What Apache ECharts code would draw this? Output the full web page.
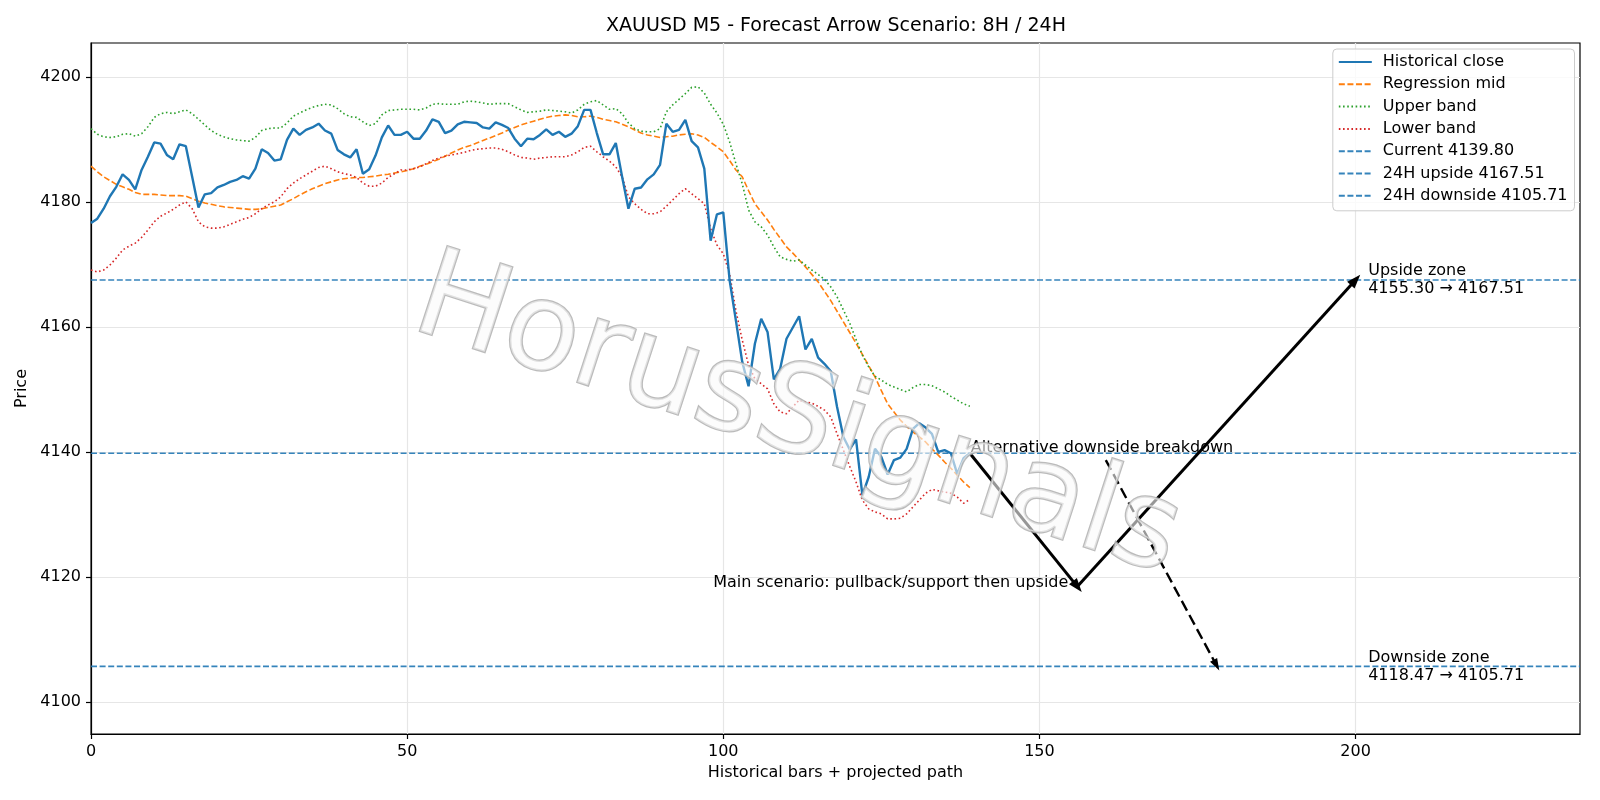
<!DOCTYPE html>
<html>
<head>
<meta charset="utf-8">
<script src="https://cdn.jsdelivr.net/npm/echarts@6/dist/echarts.min.js"></script>
<style>
html, body { margin: 0; padding: 0; background: #fff; }
#draw { width: 1600px; height: 800px; }
</style>
</head>
<body>
<div id="draw"></div>
<script>
// values, bar index 0..139
var closeVals = [4176.6, 4177.3, 4178.9, 4180.9, 4182.4, 4184.4, 4183.5, 4182.0, 4185.1, 4187.2,
	4189.5, 4189.3, 4187.5, 4186.8, 4189.2, 4188.9, 4184.0, 4179.1, 4181.2, 4181.4,
	4182.3, 4182.7, 4183.2, 4183.5, 4184.1, 4183.7, 4185.3, 4188.4, 4187.8, 4186.6,
	4186.8, 4189.9, 4191.7, 4190.7, 4191.5, 4191.9, 4192.5, 4191.4, 4190.9, 4188.3,
	4187.6, 4187.1, 4188.4, 4184.5, 4185.2, 4187.4, 4190.3, 4192.2, 4190.7, 4190.7,
	4191.2, 4190.1, 4190.1, 4191.4, 4193.2, 4192.8, 4191.0, 4191.4, 4192.4, 4192.8,
	4192.7, 4192.6, 4191.9, 4191.7, 4192.7, 4192.3, 4191.8, 4190.1, 4188.9, 4190.1,
	4190.0, 4190.7, 4191.6, 4190.7, 4191.2, 4190.4, 4190.9, 4192.1, 4194.7, 4194.7,
	4191.0, 4187.6, 4187.6, 4189.4, 4184.0, 4178.9, 4182.1, 4182.3, 4183.6, 4184.4,
	4185.9, 4192.5, 4191.2, 4191.5, 4193.1, 4189.7, 4188.7, 4185.3, 4173.8, 4178.0,
	4178.3, 4167.5, 4161.0, 4154.4, 4150.5, 4157.3, 4161.3, 4159.2, 4151.6, 4153.3,
	4158.1, 4159.9, 4161.7, 4156.4, 4158.1, 4155.1, 4154.1, 4152.9, 4147.2, 4142.4,
	4140.4, 4142.0, 4133.1, 4136.0, 4140.5, 4139.2, 4136.4, 4138.7, 4139.1, 4140.5,
	4143.7, 4144.6, 4143.9, 4142.9, 4140.0, 4140.3, 4139.8, 4136.5, 4139.0, 4139.8];

var midVals = [4185.7, 4184.8, 4184.0, 4183.4, 4182.8, 4182.4, 4182.0, 4181.5, 4181.2, 4181.2,
	4181.2, 4181.1, 4181.0, 4181.0, 4181.0, 4180.9, 4180.5, 4180.1, 4179.8, 4179.6,
	4179.4, 4179.2, 4179.1, 4179.0, 4178.9, 4178.8, 4178.8, 4178.9, 4179.1, 4179.3,
	4179.5, 4180.0, 4180.5, 4181.1, 4181.6, 4182.1, 4182.5, 4182.9, 4183.2, 4183.5,
	4183.7, 4183.8, 4183.9, 4183.9, 4184.0, 4184.1, 4184.3, 4184.4, 4184.6, 4184.8,
	4185.0, 4185.3, 4185.7, 4186.0, 4186.4, 4186.8, 4187.3, 4187.8, 4188.3, 4188.7,
	4189.0, 4189.4, 4189.8, 4190.2, 4190.6, 4191.0, 4191.5, 4191.9, 4192.3, 4192.6,
	4192.9, 4193.2, 4193.5, 4193.7, 4193.8, 4193.9, 4193.8, 4193.6, 4193.6, 4193.7,
	4193.5, 4193.2, 4193.0, 4192.8, 4192.4, 4192.0, 4191.5, 4191.0, 4190.7, 4190.5,
	4190.3, 4190.4, 4190.5, 4190.7, 4190.8, 4190.9, 4190.7, 4190.3, 4189.5, 4188.8,
	4188.0, 4186.6, 4185.1, 4184.0, 4181.8, 4179.7, 4178.4, 4177.1, 4175.6, 4174.2,
	4172.8, 4171.8, 4170.7, 4169.6, 4168.4, 4167.2, 4165.7, 4164.2, 4162.5, 4160.8,
	4159.1, 4157.4, 4155.6, 4153.8, 4152.0, 4149.8, 4147.7, 4146.4, 4145.1, 4144.1,
	4143.2, 4142.4, 4141.6, 4140.5, 4139.5, 4138.4, 4137.4, 4136.3, 4135.2, 4134.3];

var upperVals = [4191.7, 4190.8, 4190.4, 4190.3, 4190.4, 4190.8, 4190.9, 4190.5, 4190.9, 4192.0,
	4193.5, 4194.1, 4194.3, 4194.1, 4194.4, 4194.7, 4194.1, 4193.2, 4192.3, 4191.4,
	4190.8, 4190.4, 4190.1, 4189.9, 4189.8, 4189.7, 4190.3, 4191.4, 4191.7, 4191.8,
	4191.8, 4192.6, 4193.7, 4194.2, 4194.7, 4195.1, 4195.4, 4195.6, 4195.5, 4194.9,
	4194.1, 4193.6, 4193.5, 4192.8, 4192.2, 4192.5, 4193.9, 4194.6, 4194.7, 4194.8,
	4194.8, 4194.8, 4194.7, 4195.0, 4195.6, 4195.7, 4195.6, 4195.6, 4195.6, 4196.0,
	4196.1, 4196.0, 4195.8, 4195.6, 4195.7, 4195.7, 4195.7, 4195.2, 4194.7, 4194.3,
	4194.4, 4194.5, 4194.7, 4194.6, 4194.5, 4194.4, 4194.2, 4194.7, 4195.6, 4196.0,
	4196.2, 4195.5, 4194.8, 4194.9, 4194.1, 4192.6, 4191.7, 4191.3, 4191.2, 4191.2,
	4191.7, 4194.4, 4195.5, 4196.4, 4197.3, 4198.3, 4198.4, 4197.4, 4195.6, 4194.2,
	4192.4, 4189.6, 4186.1, 4182.9, 4178.7, 4176.8, 4176.0, 4174.7, 4172.8, 4171.2,
	4170.8, 4170.5, 4170.7, 4169.9, 4169.1, 4168.4, 4167.6, 4166.4, 4164.8, 4162.7,
	4160.6, 4158.0, 4155.5, 4153.6, 4152.1, 4151.5, 4150.8, 4150.4, 4150.0, 4149.6,
	4150.3, 4150.8, 4150.8, 4150.6, 4150.1, 4149.6, 4148.9, 4148.3, 4147.7, 4147.3];

var lowerVals = [4169.1, 4168.8, 4169.1, 4169.9, 4171.0, 4172.3, 4172.9, 4173.4, 4174.3, 4175.5,
	4176.8, 4177.7, 4178.2, 4178.8, 4179.5, 4180.0, 4178.9, 4176.8, 4176.0, 4175.8,
	4175.8, 4176.0, 4176.4, 4176.8, 4177.2, 4177.5, 4178.1, 4178.9, 4179.5, 4180.0,
	4180.8, 4182.1, 4183.0, 4183.7, 4184.3, 4184.9, 4185.5, 4185.7, 4185.3, 4184.8,
	4184.5, 4184.3, 4183.9, 4183.0, 4182.5, 4182.5, 4183.0, 4183.9, 4184.5, 4185.1,
	4185.1, 4185.3, 4185.6, 4186.1, 4186.6, 4187.0, 4187.3, 4187.5, 4187.7, 4187.9,
	4188.2, 4188.4, 4188.5, 4188.6, 4188.6, 4188.4, 4188.0, 4187.5, 4187.1, 4187.0,
	4186.8, 4187.0, 4187.1, 4187.2, 4187.2, 4187.2, 4187.5, 4188.0, 4188.7, 4188.9,
	4188.0, 4187.2, 4186.5, 4185.6, 4184.0, 4180.8, 4179.7, 4178.8, 4178.1, 4178.1,
	4178.4, 4179.3, 4180.3, 4181.3, 4182.1, 4181.3, 4180.5, 4179.7, 4175.7, 4173.1,
	4171.7, 4168.5, 4162.6, 4157.9, 4153.9, 4151.7, 4150.9, 4150.1, 4147.7, 4146.4,
	4146.1, 4147.2, 4148.3, 4148.0, 4147.8, 4147.3, 4146.7, 4145.6, 4142.9, 4140.3,
	4137.7, 4135.2, 4132.3, 4130.9, 4130.4, 4130.1, 4129.3, 4129.3, 4129.4, 4130.1,
	4131.2, 4132.3, 4133.4, 4134.0, 4133.8, 4133.6, 4133.4, 4132.8, 4131.8, 4132.4];

var levelNames = ['Current 4139.80', '24H upside 4167.51', '24H downside 4105.71'];
var levelVals = [4139.80, 4167.51, 4105.71];

// projected path: now -> pullback -> upside target, and the alternative breakdown
var mainPath = [[139, 4139.80], [156, 4118.47], [200, 4167.51]];
var altPath = [[160.5, 4138.7], [178, 4105.9]];

var noteTexts = ['Alternative downside breakdown', 'Main scenario: pullback/support then upside',
	'Upside zone\n4155.30 \u2192 4167.51', 'Downside zone\n4118.47 \u2192 4105.71'];
var notePoints = [[139, 4139.80], [156, 4118.47], [202, 4167.51], [202, 4105.71]];

var xTicks = [0, 50, 100, 150, 200];
var yTicks = [4100, 4120, 4140, 4160, 4180, 4200];
var xRange = [0, 235.5];
var yRange = [4094.9, 4205.4];

var FONT = 'DejaVu Sans';

var toPairs = function(vals) {
	return vals.map(function(v, i) {
		return [i, v];
	});
};

var myChart = echarts.init(document.getElementById('draw'), null, { renderer: 'canvas' });

var seriesList = [ {
	name : 'Historical close',
	type : 'line',
	data : toPairs(closeVals),
	symbol : 'none',
	lineStyle : { color : '#1f77b4', width : 2.4 },
	itemStyle : { color : '#1f77b4' },
	z : 5
}, {
	name : 'Regression mid',
	type : 'line',
	data : toPairs(midVals),
	symbol : 'none',
	lineStyle : { color : '#ff7f0e', width : 1.6, type : [6, 2.6] },
	itemStyle : { color : '#ff7f0e' },
	z : 4
}, {
	name : 'Upper band',
	type : 'line',
	data : toPairs(upperVals),
	symbol : 'none',
	lineStyle : { color : '#2ca02c', width : 1.6, type : [1.6, 2.6] },
	itemStyle : { color : '#2ca02c' },
	z : 4
}, {
	name : 'Lower band',
	type : 'line',
	data : toPairs(lowerVals),
	symbol : 'none',
	lineStyle : { color : '#d62728', width : 1.6, type : [1.6, 2.6] },
	itemStyle : { color : '#d62728' },
	z : 4
} ];

levelNames.forEach(function(nm, k) {
	seriesList.push({
		name : nm,
		type : 'line',
		data : [ [ xRange[0], levelVals[k] ], [ xRange[1], levelVals[k] ] ],
		symbol : 'none',
		lineStyle : { color : '#1f77b4', width : 1.6, type : [6, 2.6], opacity : 0.9 },
		itemStyle : { color : '#1f77b4' },
		z : 3
	});
});

// arrows
var arrowPairs = [];
for (var i = 0; i < mainPath.length - 1; i++) {
	arrowPairs.push([ { coord : mainPath[i] }, { coord : mainPath[i + 1] } ]);
}
seriesList.push({
	name : 'mainArrows',
	type : 'line',
	data : [],
	markLine : {
		silent : true,
		animation : false,
		symbol : [ 'none', 'triangle' ],
		symbolSize : [ 10, 14 ],
		label : { show : false },
		lineStyle : { color : '#000', width : 3, type : 'solid' },
		emphasis : { disabled : true },
		data : arrowPairs
	},
	z : 6
});
seriesList.push({
	name : 'altArrow',
	type : 'line',
	data : [],
	markLine : {
		silent : true,
		animation : false,
		symbol : [ 'none', 'triangle' ],
		symbolSize : [ 8, 12 ],
		label : { show : false },
		lineStyle : { color : '#000', width : 2.4, type : [11, 5] },
		emphasis : { disabled : true },
		data : [ [ { coord : altPath[0] }, { coord : altPath[1] } ] ]
	},
	z : 6
});

// text notes
var noteLabel = [
	{ align : 'left', offset : [ 1, -5 ] },
	{ align : 'right', offset : [ -9, -4 ] },
	{ align : 'left', offset : [ 0, 0 ] },
	{ align : 'left', offset : [ 0, 0 ] }
];
seriesList.push({
	name : 'notes',
	type : 'scatter',
	symbolSize : 0,
	silent : true,
	z : 7,
	itemStyle : { color : '#000', opacity : 1 },
	data : notePoints.map(function(p, k) {
		var lb = noteLabel[k];
		return {
			value : p,
			name : noteTexts[k],
			label : {
				show : true,
				position : [ 0, 0 ],
				formatter : noteTexts[k],
				align : lb.align,
				verticalAlign : 'middle',
				offset : lb.offset,
				lineHeight : 18,
				color : '#000',
				opacity : 1,
				textBorderWidth : 0,
				fontSize : 16,
				fontFamily : FONT
			}
		};
	})
});

var option = {
	animation : false,
	backgroundColor : '#fff',
	textStyle : { fontFamily : FONT },
	grid : {
		left : 91,
		right : 20,
		top : 43,
		bottom : 66,
		show : true,
		borderColor : '#000',
		borderWidth : 1.2,
		backgroundColor : 'rgba(0,0,0,0)'
	},
	legend : {
		orient : 'vertical',
		right : 25.5,
		top : 49,
		padding : [ 5, 7, 7, 5 ],
		itemWidth : 33,
		itemHeight : 14,
		itemGap : 6.3,
		backgroundColor : 'rgba(255,255,255,0.8)',
		borderColor : '#cccccc',
		borderWidth : 1,
		borderRadius : 4,
		itemStyle : { opacity : 0, borderWidth : 0 },
		textStyle : { fontSize : 16, fontFamily : FONT, color : '#000', padding : [ 0, 0, 0, 6 ] },
		data : [ 'Historical close', 'Regression mid', 'Upper band', 'Lower band' ].concat(levelNames)
	},
	xAxis : {
		type : 'value',
		min : xRange[0],
		max : xRange[1],
		name : 'Historical bars + projected path',
		nameLocation : 'middle',
		nameGap : 29,
		nameTextStyle : { fontSize : 16, color : '#000', fontFamily : FONT },
		axisLine : { show : true, lineStyle : { color : '#000', width : 1.2 } },
		axisTick : { show : true, length : 5, lineStyle : { color : '#000', width : 1.2 }, customValues : xTicks },
		axisLabel : {
			fontSize : 16, color : '#000', margin : 10, customValues : xTicks,
			formatter : function(v) {
				return xTicks.indexOf(v) >= 0 ? String(v) : '';
			}
		},
		splitLine : { show : true, lineStyle : { color : '#e6e6e6', width : 1.2 } }
	},
	yAxis : {
		type : 'value',
		min : yRange[0],
		max : yRange[1],
		name : 'Price',
		nameLocation : 'middle',
		nameGap : 53,
		nameTextStyle : { fontSize : 16, color : '#000', fontFamily : FONT },
		axisLine : { show : true, lineStyle : { color : '#000', width : 1.2 } },
		axisTick : { show : true, length : 5, lineStyle : { color : '#000', width : 1.2 }, customValues : yTicks },
		axisLabel : {
			fontSize : 16, color : '#000', margin : 10, customValues : yTicks,
			formatter : function(v) {
				return yTicks.indexOf(v) >= 0 ? String(v) : '';
			}
		},
		splitLine : { show : true, lineStyle : { color : '#e6e6e6', width : 1.2 } }
	},
	graphic : [ {
		type : 'text',
		x : 836,
		y : 26,
		style : {
			text : 'XAUUSD M5 - Forecast Arrow Scenario: 8H / 24H',
			align : 'center',
			verticalAlign : 'middle',
			fill : '#000',
			font : '19px "DejaVu Sans"'
		},
		z : 10
	}, {
		type : 'text',
		x : 797,
		y : 420,
		rotation : -18 * Math.PI / 180,
		silent : true,
		style : {
			text : 'HorusSignals',
			align : 'center',
			verticalAlign : 'middle',
			font : '122px "DejaVu Sans"',
			fill : 'rgba(250,250,250,0.6)',
			stroke : 'rgba(175,175,175,0.85)',
			lineWidth : 2.5,
			shadowColor : 'rgba(120,120,120,0.7)',
			shadowOffsetX : -4,
			shadowOffsetY : 5,
			shadowBlur : 3
		},
		z : 100
	} ],
	series : seriesList
};
myChart.setOption(option);
</script>
</body>
</html>
